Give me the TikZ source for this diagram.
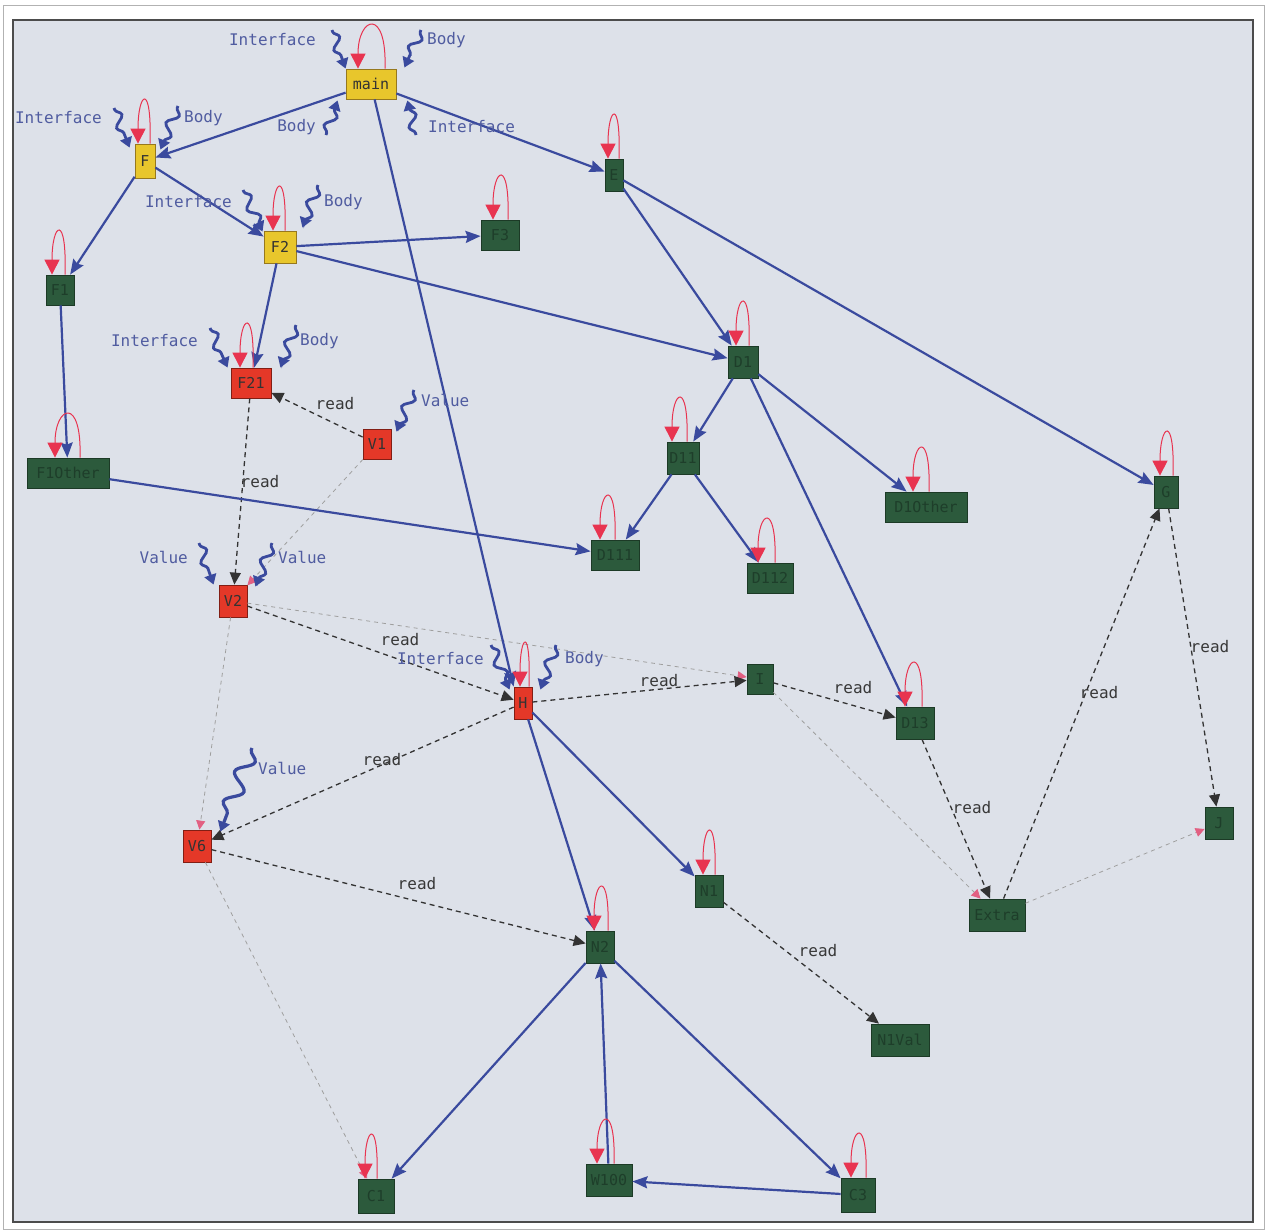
\documentclass[tikz,border=0pt]{standalone}
\usepackage{fontspec}
\setmonofont{DejaVu Sans Mono}
\usetikzlibrary{arrows.meta,decorations.pathmorphing,calc}
\definecolor{bgC}{RGB}{221,225,233}
\definecolor{bluC}{RGB}{58,74,158}
\definecolor{lblC}{RGB}{80,92,160}
\definecolor{loopC}{RGB}{232,52,80}
\definecolor{pinkC}{RGB}{226,96,130}
\definecolor{ylwC}{RGB}{232,198,44}
\definecolor{ylwD}{RGB}{150,120,30}
\definecolor{redC}{RGB}{228,56,40}
\definecolor{redD}{RGB}{130,30,20}
\definecolor{grnC}{RGB}{44,90,60}
\definecolor{grnD}{RGB}{28,58,38}
\definecolor{grnT}{RGB}{30,62,42}
\newcommand\rloopat[3]{\draw[rloop] ([xshift=#3]#1.north) .. controls +(2,62) and +(0,52) .. ([xshift=#2]#1.north);}
\begin{document}
\begin{tikzpicture}[x=1pt,y=1pt,
  nd/.style={rectangle, inner sep=0pt, line width=0.8pt, font=\ttfamily\fontsize{15}{17}\selectfont},
  ylw/.style={nd, fill=ylwC, draw=ylwD, text=black!80},
  rd/.style={nd, fill=redC, draw=redD, text=black!80},
  gr/.style={nd, fill=grnC, draw=grnD, text=grnT},
  blu/.style={draw=bluC, line width=2.2pt, -{Stealth[length=15pt,width=12pt,inset=2pt]}},
  readE/.style={draw=black!80, line width=1.3pt, dash pattern=on 5pt off 4pt, -{Triangle[length=12pt,width=11pt]}},
  faint/.style={draw=gray!75, line width=0.8pt, dash pattern=on 4pt off 4pt, -{Triangle[length=9pt,width=9pt,color=pinkC]}},
  rloop/.style={draw=loopC, line width=1pt, -{Triangle[length=15pt,width=15pt,color=loopC]}},
  squig/.style={draw=bluC, line width=2.8pt, decorate, decoration={snake, amplitude=5pt, segment length=22pt, pre length=2pt, post length=7pt}, -{Triangle[length=10pt,width=12pt]}},
  bigsquig/.style={squig, decoration={snake, amplitude=8pt, segment length=32pt, pre length=2pt, post length=9pt}, line width=3.2pt},
  sql/.style={text=lblC, font=\ttfamily\fontsize{16}{18}\selectfont, inner sep=0pt},
  rl/.style={text=black!78, font=\ttfamily\fontsize{16}{18}\selectfont, inner sep=0pt}
]
% frame
\fill[white] (0,0) rectangle (1267,-1232);
\draw[gray!60, line width=1pt] (3,-5) rectangle (1264,-1229);
\draw[fill=bgC, draw=gray!60!black, line width=1.5pt] (13,-20) rectangle (1253,-1222);

% nodes
\node[ylw, minimum width=50pt, minimum height=30pt] (main) at (371,-84) {main};
\node[ylw, minimum width=20pt, minimum height=34pt] (F) at (145,-161) {F};
\node[ylw, minimum width=32pt, minimum height=32pt] (F2) at (280,-247) {F2};
\node[rd, minimum width=40pt, minimum height=30pt] (F21) at (251,-383) {F21};
\node[rd, minimum width=28pt, minimum height=30pt] (V1) at (377,-444) {V1};
\node[rd, minimum width=28pt, minimum height=32pt] (V2) at (233,-601) {V2};
\node[rd, minimum width=28pt, minimum height=32pt] (V6) at (197,-846) {V6};
\node[rd, minimum width=18pt, minimum height=32pt] (H) at (523,-703) {H};
\node[gr, minimum width=18pt, minimum height=32pt] (E) at (614,-175) {E};
\node[gr, minimum width=28pt, minimum height=30pt] (A) at (60,-290) {F1};
\node[gr, minimum width=38pt, minimum height=30pt] (F3) at (500,-235) {F3};
\node[gr, minimum width=30pt, minimum height=32pt] (D1) at (743,-362) {D1};
\node[gr, minimum width=32pt, minimum height=32pt] (D11) at (683,-458) {D11};
\node[gr, minimum width=82pt, minimum height=30pt] (O1) at (68,-473) {F1Other};
\node[gr, minimum width=48pt, minimum height=30pt] (D111) at (615,-555) {D111};
\node[gr, minimum width=46pt, minimum height=30pt] (D112) at (770,-578) {D112};
\node[gr, minimum width=82pt, minimum height=30pt] (O2) at (926,-507) {D1Other};
\node[gr, minimum width=24pt, minimum height=32pt] (G) at (1166,-492) {G};
\node[gr, minimum width=26pt, minimum height=30pt] (I) at (760,-679) {I};
\node[gr, minimum width=38pt, minimum height=32pt] (D13) at (915,-723) {D13};
\node[gr, minimum width=28pt, minimum height=32pt] (J) at (1219,-823) {J};
\node[gr, minimum width=56pt, minimum height=32pt] (K) at (997,-915) {Extra};
\node[gr, minimum width=28pt, minimum height=32pt] (N1) at (709,-891) {N1};
\node[gr, minimum width=28pt, minimum height=32pt] (N2) at (600,-947) {N2};
\node[gr, minimum width=58pt, minimum height=32pt] (M) at (900,-1040) {N1Val};
\node[gr, minimum width=36pt, minimum height=34pt] (C1) at (376,-1196) {C1};
\node[gr, minimum width=46pt, minimum height=32pt] (W) at (609,-1180) {W100};
\node[gr, minimum width=34pt, minimum height=34pt] (C3) at (858,-1195) {C3};

% faint dashed edges
\draw[faint] (V1) -- (V2);
\draw[faint] (V2) -- (V6);
\draw[faint] (V2) -- (I);
\draw[faint] (V6) -- (C1);
\draw[faint] (I) -- (K);
\draw[faint] (K) -- (J);

% read edges
\draw[readE] (V1) -- (F21);
\draw[readE] (F21) -- (V2);
\draw[readE] (V2) -- (H);
\draw[readE] (H) -- (I);
\draw[readE] (I) -- (D13);
\draw[readE] (H) -- (V6);
\draw[readE] (V6) -- (N2);
\draw[readE] (D13) -- (K);
\draw[readE] (K) -- (G);
\draw[readE] (G) -- (J);
\draw[readE] (N1) -- (M);

% blue edges
\draw[blu] (main) -- (F);
\draw[blu] (main) -- (E);
\draw[blu] (main) -- (H.north west);
\draw[blu] (F) -- (A);
\draw[blu] (F) -- (F2);
\draw[blu] (F2) -- (F3);
\draw[blu] (F2) -- (D1);
\draw[blu] (F2) -- (F21);
\draw[blu] (E) -- (D1);
\draw[blu] (E) -- (G);
\draw[blu] (A) -- (O1);
\draw[blu] (O1) -- (D111);
\draw[blu] (D1) -- (D11);
\draw[blu] (D1) -- (O2);
\draw[blu] (D1) -- (D13);
\draw[blu] (D11) -- (D111);
\draw[blu] (D11) -- (D112);
\draw[blu] (H) -- (N2);
\draw[blu] (H) -- (N1);
\draw[blu] (N2) -- (C1);
\draw[blu] (N2) -- (C3);
\draw[blu] (W) -- (N2);
\draw[blu] (C3) -- (W);

% self loops
\rloopat{main}{-13}{14}
\rloopat{F}{-7}{5}
\rloopat{F2}{-7}{5}
\rloopat{F21}{-11}{2}
\rloopat{E}{-6}{5}
\rloopat{A}{-8}{5}
\rloopat{F3}{-7}{8}
\rloopat{D1}{-7}{6}
\rloopat{D11}{-11}{4}
\rloopat{O1}{-13}{12}
\rloopat{D111}{-15}{0}
\rloopat{D112}{-12}{5}
\rloopat{O2}{-13}{3}
\rloopat{G}{-6}{7}
\rloopat{D13}{-10}{7}
\rloopat{N1}{-6}{6}
\rloopat{N2}{-6}{8}
\rloopat{C1}{-11}{1}
\rloopat{W}{-12}{5}
\rloopat{C3}{-7}{8}
\rloopat{H}{-3}{6}

% squiggle tails
\coordinate (sMI) at (332,-30);
\coordinate (sMB) at (421,-30);
\coordinate (sMB2) at (326,-135);
\coordinate (sMI2) at (416,-135);
\coordinate (sFI) at (114,-108);
\coordinate (sFB) at (178,-106);
\coordinate (sF2I) at (243,-190);
\coordinate (sF2B) at (318,-185);
\coordinate (sF21I) at (210,-328);
\coordinate (sF21B) at (296,-325);
\coordinate (sV1) at (414,-390);
\coordinate (sV2L) at (199,-543);
\coordinate (sV2R) at (272,-543);
\coordinate (sHI) at (491,-645);
\coordinate (sHB) at (556,-645);
\coordinate (sV6) at (252,-748);

\draw[squig] (sMI) -- (main.north west);
\draw[squig] (sMB) -- ([shift={(8,1)}]main.north east);
\draw[squig] (sMB2) -- ([shift={(-8,-1)}]main.south west);
\draw[squig] (sMI2) -- ([shift={(11,-1)}]main.south east);
\draw[squig] (sFI) -- ([shift={(-5,-4)}]F.north west);
\draw[squig] (sFB) -- ([shift={(5,-6)}]F.north east);
\draw[squig] (sF2I) -- ([shift={(-1,-1)}]F2.north west);
\draw[squig] (sF2B) -- ([shift={(6,3)}]F2.north east);
\draw[squig] (sF21I) -- ([shift={(-3,0)}]F21.north west);
\draw[squig] (sF21B) -- ([shift={(9,0)}]F21.north east);
\draw[squig] (sV1) -- ([shift={(5,-3)}]V1.north east);
\draw[squig] (sV2L) -- ([shift={(-5,0)}]V2.north west);
\draw[squig] (sV2R) -- ([shift={(8,-2)}]V2.north east);
\draw[squig] (sHI) -- ([shift={(-4,-3)}]H.north west);
\draw[squig] (sHB) -- ([shift={(8,-3)}]H.north east);
\draw[bigsquig] (sV6) -- ([shift={(9,-2)}]V6.north east);

% squiggle labels
\node[sql, anchor=east] (lMI) at (316,-40) {Interface};
\node[sql, anchor=west] (lMB) at (427,-40) {Body};
\node[sql, anchor=east] (lMB2) at (316,-127) {Body};
\node[sql, anchor=west] (lMI2) at (428,-127) {Interface};
\node[sql, anchor=east] (lFI) at (102,-118) {Interface};
\node[sql, anchor=west] (lFB) at (184,-118) {Body};
\node[sql, anchor=east] (lF2I) at (232,-202) {Interface};
\node[sql, anchor=west] (lF2B) at (324,-202) {Body};
\node[sql, anchor=east] (lF21I) at (198,-341) {Interface};
\node[sql, anchor=west] (lF21B) at (300,-341) {Body};
\node[sql, anchor=west] (lV1) at (421,-400) {Value};
\node[sql, anchor=east] (lV2L) at (188,-557) {Value};
\node[sql, anchor=west] (lV2R) at (278,-557) {Value};
\node[sql, anchor=east] (lHI) at (484,-659) {Interface};
\node[sql, anchor=west] (lHB) at (565,-659) {Body};
\node[sql, anchor=west] (lV6) at (258,-768) {Value};

% read labels
\node[rl] (ra) at (335,-404) {read};
\node[rl] (rb) at (260,-482) {read};
\node[rl] (rc) at (400,-640) {read};
\node[rl] (rd) at (659,-681) {read};
\node[rl] (re) at (853,-688) {read};
\node[rl] (rf) at (382,-760) {read};
\node[rl] (rg) at (417,-884) {read};
\node[rl] (ri) at (1099,-693) {read};
\node[rl] (rh) at (972,-808) {read};
\node[rl] (rj) at (1210,-647) {read};
\node[rl] (rk) at (818,-951) {read};
\end{tikzpicture}
\end{document}
